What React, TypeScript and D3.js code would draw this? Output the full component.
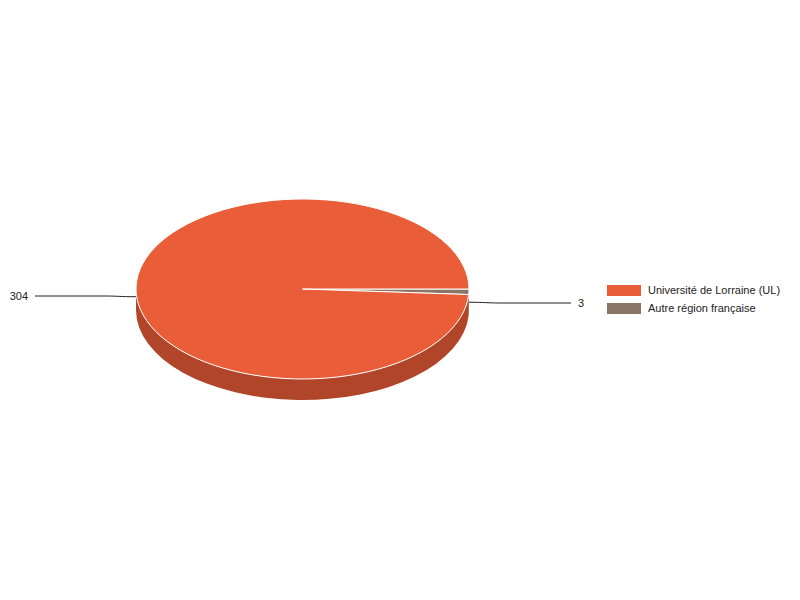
import React from "react";
import * as d3 from "d3";

const categories = ["Université de Lorraine (UL)", "Autre région française"];
const values = [304, 3];
const colors = ["#E95D38", "#8A7666"];
const sideColors = ["#B0452A", "#6A5A4E"];
// drawing order around the pie (clockwise from 3 o'clock): small slice first
const drawOrder = [1, 0];

const W = 800, H = 600;
const cx = 302.5, cy = 289, rx = 166.5, ry = 90, depth = 21;

export default function App() {
  const arcs = d3
    .pie<number>()
    .sort(null)
    .value((k) => values[k])
    .startAngle(Math.PI / 2)
    .endAngle(Math.PI / 2 + 2 * Math.PI)(drawOrder);

  const pt = (a: number, dy = 0) => [cx + rx * Math.sin(a), cy - ry * Math.cos(a) + dy];

  const topPath = (a0: number, a1: number) => {
    const [x0, y0] = pt(a0);
    const [x1, y1] = pt(a1);
    const large = a1 - a0 > Math.PI ? 1 : 0;
    return `M${cx},${cy}L${x0},${y0}A${rx},${ry} 0 ${large} 1 ${x1},${y1}Z`;
  };
  const sidePath = (a0: number, a1: number) => {
    const s = Math.max(a0, Math.PI / 2), e = Math.min(a1, (3 * Math.PI) / 2);
    if (e <= s) return null;
    const [x0, y0] = pt(s);
    const [x1, y1] = pt(e);
    const large = e - s > Math.PI ? 1 : 0;
    return `M${x0},${y0}A${rx},${ry} 0 ${large} 1 ${x1},${y1}L${x1},${y1 + depth}A${rx},${ry} 0 ${large} 0 ${x0},${y0 + depth}Z`;
  };

  const labelPos = [
    { tx: 28, ty: 296, anchor: "end", lx: 35 },
    { tx: 578, ty: 303, anchor: "start", lx: 571 },
  ];

  return (
    <svg width={W} height={H} style={{ position: "absolute", left: 0, top: 0, fontFamily: "'Liberation Sans', Arial, sans-serif" }}>
      <rect width={W} height={H} fill="#fff" />
      {arcs.map((a, i) => {
        const p = sidePath(a.startAngle, a.endAngle);
        return p ? <path key={"s" + i} d={p} fill={sideColors[a.data]} /> : null;
      })}
      {arcs.map((a, i) => (
        <path key={"t" + i} d={topPath(a.startAngle, a.endAngle)} fill={colors[a.data]} stroke="#fff" strokeWidth={1} strokeLinejoin="round" />
      ))}
      {arcs.map((a, i) => {
        const k = a.data;
        const mid = (a.startAngle + a.endAngle) / 2;
        const [ax, ay] = pt(mid, depth / 2);
        const L = labelPos[k];
        const dir = L.anchor === "end" ? -1 : 1;
        const bx = ax + dir * 30;
        return (
          <g key={"l" + i}>
            <path d={`M${ax},${ay}C${ax + dir * 15},${ay} ${bx - dir * 10},${L.ty} ${bx},${L.ty}L${L.lx},${L.ty}`} fill="none" stroke="#222" strokeWidth={1} />
            <text x={L.tx} y={L.ty + 4} fontSize={11} textAnchor={L.anchor as any} fill="#222">{values[k]}</text>
          </g>
        );
      })}
      {categories.map((c, i) => (
        <g key={"g" + i}>
          <rect x={607} y={285 + i * 18} width={34} height={11} fill={colors[i]} />
          <text x={648} y={294 + i * 18} fontSize={11} fill="#222">{c}</text>
        </g>
      ))}
    </svg>
  );
}
